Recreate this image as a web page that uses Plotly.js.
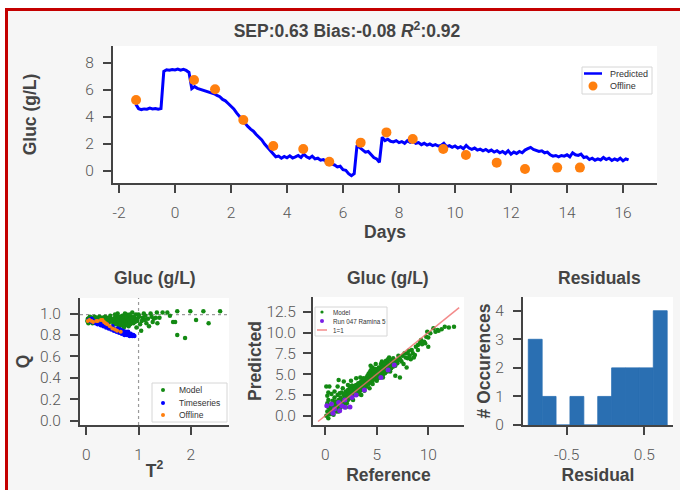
<!DOCTYPE html>
<html><head><meta charset="utf-8">
<script src="https://cdn.plot.ly/plotly-3.0.1.min.js"></script>
<style>
html,body{margin:0;padding:0;background:#fff;width:680px;height:490px;overflow:hidden}
#frame{position:absolute;left:5px;top:8px;width:700px;height:500px;border-left:3px solid #c40000;border-top:3px solid #c40000;background:#f6f6f6}
#chart{position:absolute;left:0;top:0;width:680px;height:490px}
</style></head><body><div id="frame"></div><div id="chart"></div>
<script>
// ---------- main time series ----------
const days = [-1.4,-1.3,-1.2,-1.1,-1.0,-0.9,-0.8,-0.7,-0.6,-0.5,
-0.4,-0.3,-0.2,-0.1,0.0,0.1,0.2,0.3,0.4,0.5,
0.6,0.7,0.8,0.9,1.0,1.1,1.2,1.3,1.4,1.5,1.6,
1.7,1.8,1.9,2.0,2.1,2.2,2.3,2.4,2.5,2.6,2.7,
2.8,2.9,3.0,3.1,3.2,3.3,3.4,3.5,
3.6,3.7,3.8,3.9,4.0,4.1,4.2,4.3,4.4,4.5,4.6,4.7,4.8,4.9,
5.0,5.1,5.2,5.3,5.4,5.5,5.6,5.7,5.8,5.9,6.0,6.1,6.2,6.3,6.4,
6.5,6.6,6.7,6.8,6.9,7.0,7.1,7.2,7.3,
7.4,7.5,7.6,7.7,7.8,7.9,8.0,8.1,8.2,8.3,8.4,8.5,8.6,8.7,8.8,8.9,9.0,9.1,9.2,9.3,9.4,9.5,
9.6,9.7,9.8,9.9,10.0,10.1,10.2,10.3,10.4,10.5,10.6,10.7,10.8,10.9,11.0,
11.1,11.2,11.3,11.4,11.5,11.6,11.7,11.8,11.9,12.0,12.1,12.2,12.3,12.4,
12.5,12.6,12.7,12.8,12.9,13.0,13.1,13.2,13.3,13.4,13.5,13.6,13.7,13.8,13.9,
14.0,14.1,14.2,14.3,14.4,14.5,14.6,14.7,14.8,14.9,15.0,15.1,15.2,15.3,15.4,15.5,15.6,15.7,15.8,15.9,16.0,16.1,16.2];
const predicted = [4.95,4.62,4.55,4.6,4.58,4.66,4.6,4.63,4.57,4.62,
7.38,7.5,7.46,7.52,7.48,7.55,7.47,7.53,7.45,7.3,
6.1,6.25,6.12,6.05,6.0,5.92,5.88,5.8,5.72,5.6,5.5,
5.3,5.2,5.0,4.8,4.6,4.3,4.05,3.8,3.5,3.3,3.1,
2.95,2.7,2.5,2.3,2.0,1.75,1.5,1.25,
1.05,1.1,0.95,1.08,0.98,1.12,0.96,1.05,1.15,1.0,1.25,1.05,0.95,1.1,
0.9,0.95,0.8,0.85,0.7,0.75,0.5,0.45,0.3,0.35,0.1,0.05,-0.2,-0.35,-0.2,
1.9,1.75,1.6,1.4,1.45,1.2,1.0,0.9,0.65,
2.5,2.25,2.35,2.2,2.15,2.25,2.1,2.18,2.05,2.25,2.12,2.2,2.05,2.1,1.95,2.05,1.92,2.0,1.88,1.95,1.85,1.9,
2.05,1.8,1.88,1.75,1.85,1.7,1.8,1.65,1.9,1.7,1.6,1.7,1.55,1.62,1.5,
1.6,1.45,1.55,1.4,1.5,1.35,1.45,1.3,1.5,1.25,1.4,1.3,1.45,1.35,
1.55,1.65,1.75,1.6,1.55,1.45,1.5,1.35,1.4,1.2,1.1,1.15,1.05,1.15,1.1,
1.2,1.05,1.35,1.2,1.15,1.25,1.0,1.05,0.85,0.95,0.8,0.9,0.82,1.0,0.85,0.95,0.78,0.9,0.8,0.95,0.75,0.9,0.82];
const offlineDays = [-1.39,0.68,1.43,2.44,3.51,4.58,5.51,6.63,7.55,8.49,9.58,10.39,11.49,12.5,13.65,14.46];
const offlineGluc = [5.26,6.74,6.05,3.78,1.85,1.63,0.69,2.1,2.86,2.37,1.63,1.18,0.62,0.15,0.25,0.25];
const dayTickVals = [-2,0,2,4,6,8,10,12,14,16];
const dayTickText = ['-2','0','2','4','6','8','10','12','14','16'];

// ---------- T2 / Q panel ----------
const modelT2Q = [[0.03,0.95],[0.05,0.93],[0.06,0.96],[0.08,0.94],[0.1,0.92],[0.11,0.96],[0.13,0.95],[0.15,0.93],[0.17,0.96],[0.19,0.94],
[0.21,0.92],[0.23,0.95],[0.25,0.97],[0.27,0.94],[0.29,0.92],[0.31,0.96],[0.33,0.94],[0.35,0.95],[0.37,0.93],[0.4,0.96],[0.42,0.94],[0.44,0.92],
[0.04,0.91],[0.07,0.97],[0.12,0.91],[0.16,0.97],[0.2,0.96],[0.24,0.93],[0.28,0.96],[0.32,0.93],[0.36,0.97],[0.41,0.92],[0.02,0.93],[0.09,0.95],
[0.5,0.94],[0.52,0.91],[0.55,0.96],[0.57,0.93],[0.6,0.9],[0.62,0.95],[0.64,0.92],[0.66,0.97],[0.68,0.94],[0.7,0.91],[0.71,0.96],[0.73,0.93],
[0.75,0.89],[0.76,0.95],[0.78,0.92],[0.8,0.97],[0.82,0.94],[0.84,0.9],[0.86,0.93],[0.88,0.96],[0.9,0.91],[0.58,0.97],[0.63,0.88],[0.69,0.98],
[0.72,0.87],[0.77,0.99],[0.81,0.88],[0.65,0.93],[0.67,0.9],[0.74,0.95],[0.79,0.93],[0.61,0.93],[0.54,0.93],[0.85,0.97],[0.92,0.95],[0.95,0.99],
[0.66,0.94],[0.69,0.92],[0.72,0.95],[0.7,0.93],[0.68,0.96],[0.64,0.95],[0.6,1.0],[0.74,1.0],[0.88,1.01],[0.47,0.95],[0.46,0.98],
[0.05,0.95],[0.14,0.94],[0.18,0.95],[0.22,0.94],[0.26,0.95],[0.3,0.94],[0.34,0.96],[0.38,0.95],[0.43,0.95],[0.48,0.93],[0.53,0.95],[0.56,0.9],
[0.59,0.94],[0.62,0.92],[0.63,0.97],[0.66,0.91],[0.67,0.95],[0.69,0.89],[0.7,0.95],[0.71,0.93],[0.72,0.91],[0.73,0.97],[0.75,0.93],[0.76,0.91],
[0.77,0.96],[0.79,0.9],[0.8,0.94],[0.83,0.92],[0.86,0.95],[0.89,0.93],[0.91,0.97],[0.93,0.92],[0.97,0.93],[0.55,0.99],[0.83,0.99],
[1.0,0.99],[1.1,1.0],[1.03,0.9],[1.05,0.84],[1.15,0.91],[1.2,0.88],[1.23,1.0],[1.29,0.95],[1.36,0.91],[1.33,0.96],[1.46,1.01],[1.55,1.01],
[1.66,0.92],[1.7,0.92],[1.74,1.02],[1.74,0.8],[1.89,0.77],[1.99,1.02],[2.1,0.94],[2.24,1.02],[2.34,0.91],[2.56,1.02],[0.98,0.95],[1.08,0.96],
[0.96,0.87],[1.12,0.94],[1.27,0.92],[1.01,0.97],[1.06,0.93],[1.13,0.98],[1.18,0.95],[1.25,0.97],[1.4,0.96],[1.6,0.98],[1.35,1.01]];
const timeseriesT2Q = [[0.05,0.94],[0.08,0.93],[0.1,0.95],[0.12,0.92],[0.15,0.93],[0.18,0.91],[0.2,0.93],[0.22,0.9],[0.25,0.91],[0.28,0.89],
[0.3,0.9],[0.33,0.88],[0.35,0.89],[0.38,0.87],[0.4,0.88],[0.43,0.86],[0.45,0.87],[0.48,0.85],[0.5,0.86],[0.53,0.84],[0.55,0.85],[0.58,0.83],
[0.6,0.84],[0.63,0.82],[0.65,0.83],[0.68,0.81],[0.7,0.82],[0.73,0.8],[0.75,0.81],[0.78,0.8],[0.8,0.81],[0.83,0.79],[0.85,0.8],[0.88,0.79],
[0.9,0.8],[0.92,0.79],[0.6,0.86],[0.7,0.84],[0.8,0.83],[0.5,0.88],[0.4,0.9],[0.65,0.85],[0.75,0.83],[0.85,0.81]];
const offlineT2Q = [[0.03,0.93],[0.06,0.94],[0.1,0.93],[0.13,0.92],[0.19,0.93],[0.22,0.93],[0.28,0.94],[0.31,0.94],[0.34,0.92],[0.37,0.91],
[0.4,0.9],[0.45,0.88],[0.5,0.86],[0.55,0.85],[0.59,0.84],[0.66,0.83]];
const t2Limit = 1.0;
const qLimit = 0.99;

// ---------- Predicted vs Reference ----------
const modelRefPred = [[0.1,0.0],[0.2,0.5],[0.3,1.0],[0.2,1.5],[0.1,3.5],[0.3,2.8],[0.4,0.2],[0.5,0.8],[0.5,1.3],[0.6,0.4],[0.7,1.1],[0.7,1.8],
[0.8,0.6],[0.9,1.4],[0.9,2.2],[1.0,0.9],[1.3,4.3],[1.1,1.6],[1.2,1.1],[1.2,2.5],[1.3,1.9],[1.4,0.8],[1.4,1.5],[1.8,4.1],[1.5,2.2],[1.6,1.3],
[1.6,2.8],[1.7,1.9],[1.7,3.3],[1.8,1.5],[1.8,2.5],[1.9,2.1],[2.0,1.7],[2.0,2.9],[2.1,2.3],[2.2,1.9],[2.2,3.1],[2.3,2.6],[2.4,2.1],[2.4,3.4],
[2.5,2.8],[2.6,2.4],[2.6,3.6],[2.7,3.0],[2.8,2.6],[2.8,3.3],[2.9,2.9],[3.0,3.7],[3.0,2.7],[3.1,3.2],[3.2,2.9],[3.2,3.9],[3.3,3.4],[3.4,3.0],
[3.4,4.0],[3.5,3.6],[3.6,3.2],[3.6,4.2],[3.7,3.8],[3.8,3.4],[3.8,4.4],[3.9,4.0],[4.0,3.5],[4.0,4.6],[4.1,4.2],[4.2,3.8],[4.2,5.0],[4.3,4.4],
[4.4,4.0],[4.4,5.4],[4.5,4.7],[4.6,4.2],[4.6,5.8],[4.7,4.9],[4.8,4.4],[4.8,5.2],[4.9,4.7],[5.0,5.5],[5.0,4.2],[5.1,5.0],[5.2,4.6],[5.2,5.8],
[5.3,5.1],[5.4,4.7],[5.4,5.6],[5.5,5.3],[5.6,4.9],[5.6,6.0],[5.7,5.5],[5.8,5.1],[5.8,6.2],[5.9,5.7],[6.0,5.3],[6.0,6.4],[6.1,5.9],[6.2,5.5],
[6.3,6.1],[6.4,5.7],[6.4,6.6],[6.5,6.2],[6.6,5.9],[6.7,6.5],[6.8,6.0],[7.0,6.7],[7.0,6.3],[7.25,4.6],[7.2,6.9],[7.4,6.5],[7.5,7.2],[7.6,6.2],
[7.8,7.0],[8.0,7.5],[8.0,6.9],[8.2,7.2],[8.4,7.9],[8.5,7.5],[8.7,7.3],[9.0,8.5],[9.0,7.9],[9.2,8.8],[9.3,9.1],[9.6,8.9],[9.8,9.5],[10.0,8.3],
[10.0,9.4],[9.9,10.1],[10.5,10.5],[10.9,10.3],[11.0,10.2],[11.6,10.7],[12.0,10.6],[12.5,10.7],[9.7,8.7],[8.6,7.0],[7.9,5.8],[6.8,4.8],[3.0,4.5],
[2.5,4.2],[1.2,3.5],[0.6,2.6],[0.3,-0.3],[0.8,0.1],[1.3,0.5],[2.0,1.0],[6.2,7.0],[5.5,6.5],[4.3,3.3],[3.5,2.5],[2.7,1.9],[0.4,3.5],[2.6,3.6],
[1.0,1.2],[1.5,1.7],[2.1,2.6],[2.9,3.3],[3.3,3.7],[3.9,4.3],[4.5,5.0],[4.9,5.1],[5.3,5.6],[5.7,6.0],[6.1,6.3],[4.7,4.5],[5.1,4.8],[3.7,3.5],
[4.1,3.9],[2.3,2.2],[1.1,0.7],[0.4,0.6],[4.5,4.1],[5.0,4.9],[5.9,6.1],[6.6,6.9],[3.1,2.8],[2.4,2.6],[1.9,1.6],
[0.5,0.2],[0.6,1.0],[0.8,1.3],[1.0,1.7],[1.1,0.5],[1.3,1.2],[1.5,1.0],[1.5,1.9],[1.7,1.4],[1.9,2.6],[2.0,2.2],[2.1,1.5],[2.3,2.9],[2.5,2.3],
[2.5,3.1],[2.7,2.5],[2.9,3.6],[3.0,3.0],[3.2,3.3],[3.3,2.6],[3.5,4.1],[3.6,3.7],[3.7,4.5],[3.9,3.6],[4.0,4.0],[4.1,4.8],[4.2,4.4],[4.3,5.2],
[4.4,4.6],[4.5,5.6],[4.6,4.9],[4.7,5.4],[4.8,4.9],[4.9,5.6],[5.0,5.0],[5.1,4.5],[5.2,5.3],[5.3,4.8],[5.4,6.2],[5.5,5.8],[5.6,5.4],[5.7,6.3],
[5.8,5.6],[5.9,6.6],[6.0,5.9],[6.1,6.8],[6.2,6.2],[6.3,5.8],[6.5,6.7],[6.6,6.3],[6.9,6.6],[7.1,7.2],[7.3,6.7],[7.7,7.5],[8.1,7.8],[8.3,6.8],
[8.8,8.3],[9.4,8.6],[10.2,9.9],[10.7,10.1],[11.3,10.4],[4.4,6.0],[4.9,6.2],[3.4,4.6],[2.2,3.7],[1.4,2.7],[0.9,2.9],[0.3,1.9],[0.2,2.4],
[3.8,3.0],[4.6,3.8],[5.6,4.6],[6.3,5.3]];
const runRefPred = [[0.15,1.2],[0.6,1.4],[1.3,1.6],[1.9,1.9],[2.6,2.2],[3.0,2.5],[3.8,3.1],[5.4,4.6],[6.1,5.5],[6.7,6.1],
[0.75,0.3],[0.9,0.8],[1.4,0.6],[1.9,1.0],[2.4,1.05],[1.6,1.2]];
const identityLine = [-0.7, 13.0];

// ---------- Residuals histogram ----------
const residualBinLeft = [-0.995,-0.816,-0.637,-0.458,-0.279,-0.100,0.079,0.258,0.437,0.616];
const residualCounts = [3,1,0,1,0,1,2,2,2,4];
const residualBinWidth = 0.179;

// ---------- colours ----------
const C_PRED = '#0000ff', C_OFF = '#ff7f0e', C_MODEL = '#138a13', C_TS = '#0000ff', C_RUN = '#7a1fe6', C_ID = 'rgba(240,110,110,0.8)', C_BAR = '#2a6fb2';

// ---------- styling ----------
const TICKFONT = {family:'Roboto, "Liberation Sans", sans-serif', size:15.5, color:'#555', weight:300};
const TITLEFONT = {family:'"Liberation Sans", Arial, sans-serif', size:17.5, color:'#444', weight:'bold'};
const LEGFAMILY = '"Liberation Sans", Arial, sans-serif';
function ax(extra){
  return Object.assign({showline:true, linecolor:'#444', linewidth:2, ticks:'outside', ticklen:8, tickwidth:2,
    tickcolor:'#444', showgrid:false, zeroline:false, tickfont:TICKFONT, fixedrange:true, automargin:false}, extra);
}
const col = (arr,i)=>arr.map(p=>p[i]);

const traces = [
  {x:days, y:predicted, xaxis:'x', yaxis:'y', mode:'lines', name:'Predicted', line:{color:C_PRED, width:3}, showlegend:false},
  {x:offlineDays, y:offlineGluc, xaxis:'x', yaxis:'y', mode:'markers', name:'Offline', marker:{color:C_OFF, size:10}, showlegend:false},

  {x:col(modelT2Q,0), y:col(modelT2Q,1), xaxis:'x2', yaxis:'y2', mode:'markers', name:'Model', marker:{color:C_MODEL, size:4.5}, showlegend:false},
  {x:col(timeseriesT2Q,0), y:col(timeseriesT2Q,1), xaxis:'x2', yaxis:'y2', mode:'markers', name:'Timeseries', marker:{color:C_TS, size:4.5}, showlegend:false},
  {x:col(offlineT2Q,0), y:col(offlineT2Q,1), xaxis:'x2', yaxis:'y2', mode:'markers', name:'Offline', marker:{color:C_OFF, size:4}, showlegend:false},

  {x:col(modelRefPred,0), y:col(modelRefPred,1), xaxis:'x3', yaxis:'y3', mode:'markers', name:'Model', marker:{color:C_MODEL, size:4.5}, showlegend:false},
  {x:col(runRefPred,0), y:col(runRefPred,1), xaxis:'x3', yaxis:'y3', mode:'markers', name:'Run 047 Ramina 5', marker:{color:C_RUN, size:5}, showlegend:false},
  {x:identityLine, y:identityLine, xaxis:'x3', yaxis:'y3', mode:'lines', name:'1=1', line:{color:C_ID, width:1.5}, showlegend:false},

  {type:'bar', x:residualBinLeft, y:residualCounts, width:residualBinWidth, offset:0, xaxis:'x4', yaxis:'y4',
   marker:{color:C_BAR, line:{width:0.8, color:C_BAR}}, showlegend:false}
];

const W=680, H=490;
const px = v=>v/W, py = v=>1-v/H;

// compact matplotlib-like legends: box + glyph + label
const legShapes = [], legAnns = [];
function legend(box, symX, textX, fontSize, rows){
  legShapes.push({type:'rect', xref:'paper', yref:'paper', x0:px(box[0]), x1:px(box[2]), y0:py(box[3]), y1:py(box[1]),
    fillcolor:'rgba(255,255,255,0.92)', line:{color:'#d6d6d6', width:1}, layer:'above'});
  rows.forEach(r=>{
    if(r.kind==='line'){
      legShapes.push({type:'line', xref:'paper', yref:'paper', x0:px(symX-r.half), x1:px(symX+r.half), y0:py(r.y), y1:py(r.y),
        line:{color:r.color, width:r.size}, layer:'above'});
    } else {
      legShapes.push({type:'circle', xref:'paper', yref:'paper', x0:px(symX-r.size), x1:px(symX+r.size), y0:py(r.y+r.size), y1:py(r.y-r.size),
        fillcolor:r.color, line:{width:0}, layer:'above'});
    }
    legAnns.push({text:r.label, xref:'paper', yref:'paper', x:px(textX), y:py(r.y), xanchor:'left', yanchor:'middle', showarrow:false,
      font:{family:LEGFAMILY, size:fontSize, color:'#333'}});
  });
}
legend([582,67,652,94], 593, 608, 9, [
  {kind:'line', y:73.5, color:C_PRED, size:2.5, half:9, label:'Predicted'},
  {kind:'dot', y:86, color:C_OFF, size:4.5, label:'Offline'}]);
legend([152,383,227,422], 163, 177, 8.5, [
  {kind:'dot', y:390, color:C_MODEL, size:2, label:'Model'},
  {kind:'dot', y:403, color:C_TS, size:2, label:'Timeseries'},
  {kind:'dot', y:415, color:C_OFF, size:2, label:'Offline'}]);
legend([315,307,387,336], 322, 331, 6.3, [
  {kind:'dot', y:312, color:C_MODEL, size:1.6, label:'Model'},
  {kind:'dot', y:321, color:C_RUN, size:2, label:'Run 047 Ramina 5'},
  {kind:'line', y:330, color:C_ID, size:1.5, half:5, label:'1=1'}]);

const layout = {
  width:W, height:H, margin:{l:0,r:0,t:0,b:0}, showlegend:false,
  paper_bgcolor:'rgba(0,0,0,0)', plot_bgcolor:'#ffffff',
  title:{text:'<b>SEP:0.63 Bias:-0.08 <i>R</i><sup>2</sup>:0.92</b>', x:347/W, xanchor:'center', y:py(31), yanchor:'middle', font:TITLEFONT},
  xaxis: ax({domain:[px(113),px(657)], anchor:'y', range:[-2.214,17.214], tickvals:dayTickVals, ticktext:dayTickText, ticklabelstandoff:6,
    title:{text:'Days', font:TITLEFONT, standoff:4}}),
  yaxis: ax({domain:[py(183),py(46)], anchor:'x', range:[-0.889,9.259], tick0:0, dtick:2, ticklabelstandoff:6,
    title:{text:'Gluc (g/L)', font:TITLEFONT, standoff:44}}),
  xaxis2: ax({domain:[px(80),px(229)], anchor:'y2', range:[-0.12,2.73], tick0:0, dtick:1, ticklabelstandoff:6,
    title:{text:'T<sup>2</sup>', font:TITLEFONT, standoff:2}}),
  yaxis2: ax({domain:[py(425),py(298)], anchor:'x2', range:[-0.042,1.145], tick0:0, dtick:0.2, tickformat:'.1f', ticklabelstandoff:6,
    title:{text:'Q', font:TITLEFONT, standoff:6}}),
  xaxis3: ax({domain:[px(313),px(464)], anchor:'y3', range:[-1.19,13.47], tick0:0, dtick:5, ticklabelstandoff:6,
    title:{text:'Reference', font:TITLEFONT, standoff:6}}),
  yaxis3: ax({domain:[py(425),py(297)], anchor:'x3', range:[-1.12,14.27], tick0:0, dtick:2.5, tickformat:'.1f', ticklabelstandoff:4,
    title:{text:'Predicted', font:TITLEFONT, standoff:0}}),
  xaxis4: ax({domain:[px(523),px(673)], anchor:'y4', range:[-1.063,0.870], tickvals:[-0.5,0.5], ticktext:['-0.5','0.5'], ticklabelstandoff:6,
    title:{text:'Residual', font:TITLEFONT, standoff:6}}),
  yaxis4: ax({domain:[py(425),py(297)], anchor:'x4', range:[0,4.48], tick0:0, dtick:1, ticklabelstandoff:6,
    title:{text:'# Occurences', font:TITLEFONT, standoff:0}}),
  shapes:[
    {type:'line', xref:'x2', yref:'y2 domain', x0:t2Limit, x1:t2Limit, y0:0, y1:1, layer:'below', line:{color:'#9a9a9a', width:1.2, dash:'dot'}},
    {type:'line', xref:'x2 domain', yref:'y2', x0:0, x1:1, y0:qLimit, y1:qLimit, layer:'below', line:{color:'#9a9a9a', width:1.2, dash:'dot'}}
  ].concat(legShapes),
  annotations:[
    {text:'<b>Gluc (g/L)</b>', xref:'paper', yref:'paper', x:px(155), y:py(278), xanchor:'center', yanchor:'middle', showarrow:false, font:TITLEFONT},
    {text:'<b>Gluc (g/L)</b>', xref:'paper', yref:'paper', x:px(388), y:py(278), xanchor:'center', yanchor:'middle', showarrow:false, font:TITLEFONT},
    {text:'<b>Residuals</b>', xref:'paper', yref:'paper', x:px(599), y:py(278), xanchor:'center', yanchor:'middle', showarrow:false, font:TITLEFONT}
  ].concat(legAnns)
};

Plotly.newPlot('chart', traces, layout, {displayModeBar:false, staticPlot:true});
</script></body></html>
